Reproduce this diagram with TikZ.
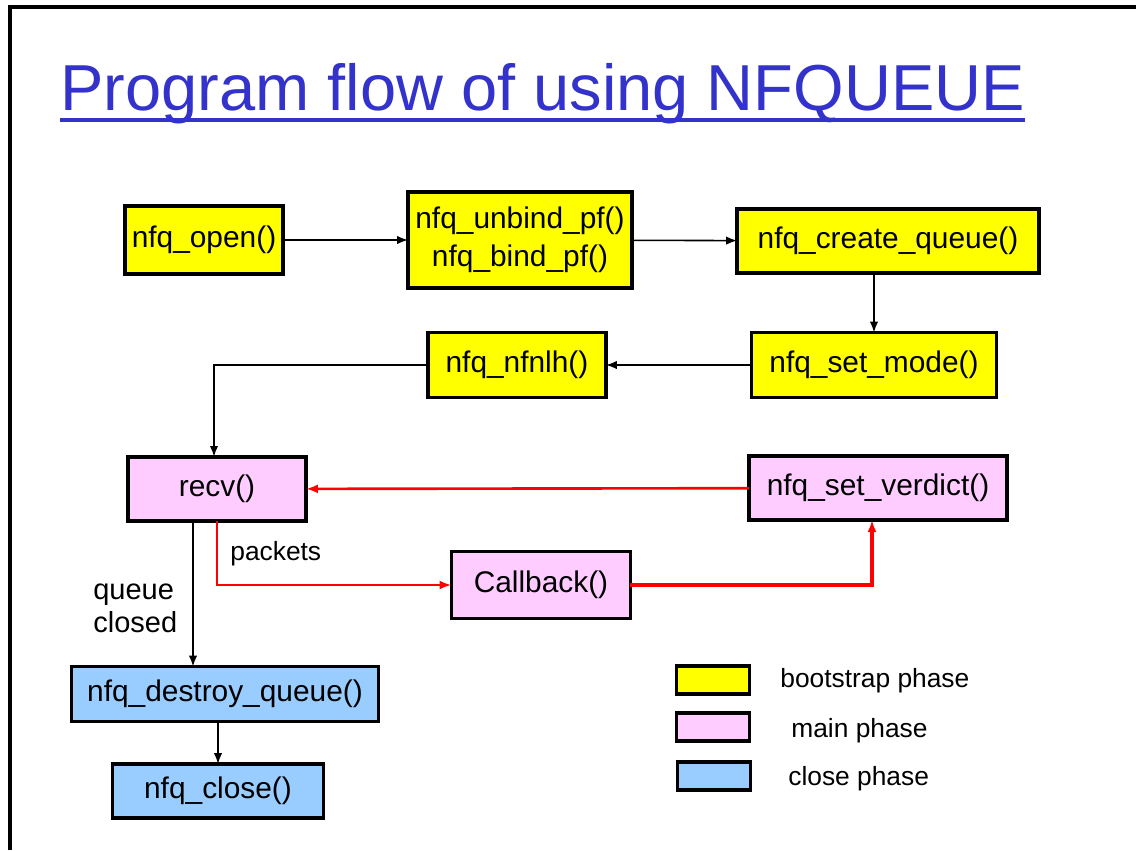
\documentclass[tikz,border=0pt]{standalone}
\usepackage{fontspec}
\setmainfont{Liberation Sans}
\usetikzlibrary{arrows.meta}
\definecolor{titleblue}{RGB}{51,51,204}
\definecolor{bootyellow}{RGB}{255,255,0}
\definecolor{mainpink}{RGB}{255,204,255}
\definecolor{closeblue}{RGB}{153,204,255}
\definecolor{flowred}{RGB}{255,0,0}

\begin{document}
\begin{tikzpicture}[x=0.02cm,y=-0.02cm,
	box/.style={draw,line width=2.2pt,inner sep=0,outer sep=0,font=\fontsize{17}{21.5}\selectfont,align=center},
	legendbox/.style={draw,line width=2.2pt,inner sep=0,outer sep=0,minimum width=1.46cm,minimum height=0.56cm},
	arr/.style={draw,line width=0.9pt,-{Latex[length=2.2mm,width=1.7mm]}},
	redarr/.style={draw=flowred,line width=1.5pt,-{Latex[length=2.4mm,width=1.8mm]},color=flowred}]
	\useasboundingbox (0,0) rectangle (1136,850);
	\draw[line width=2pt] (10,850) -- (10,7) -- (1136,7);
	% title
	\node[anchor=base west,inner sep=0,text=titleblue,font=\fontsize{37}{44}\selectfont] (0) at (60,110) {Program flow of using NFQUEUE};
	\draw[titleblue,line width=2pt] ([yshift=-0.2cm]0.base west) -- ([yshift=-0.2cm]0.base east);
	% bootstrap phase
	\node[box,fill=bootyellow,minimum width=3.16cm,minimum height=1.36cm] (1) at (204,240) {nfq\_open()};
	\node[box,fill=bootyellow,minimum width=4.48cm,minimum height=1.92cm] (2) at (520,240) {nfq\_unbind\_pf()\\nfq\_bind\_pf()};
	\node[box,fill=bootyellow,minimum width=6.04cm,minimum height=1.28cm] (3) at (888,241) {nfq\_create\_queue()};
	\node[box,fill=bootyellow,minimum width=4.9cm,minimum height=1.3cm] (4) at (874,365) {nfq\_set\_mode()};
	\node[box,fill=bootyellow,minimum width=3.56cm,minimum height=1.3cm] (5) at (517,365) {nfq\_nfnlh()};
	% main phase
	\node[box,fill=mainpink,minimum width=3.56cm,minimum height=1.28cm] (6) at (217,489) {recv()};
	\node[box,fill=mainpink,minimum width=5.16cm,minimum height=1.28cm] (7) at (878,488) {nfq\_set\_verdict()};
	\node[box,fill=mainpink,minimum width=3.58cm,minimum height=1.34cm] (8) at (541,585) {Callback()};
	% close phase
	\node[box,fill=closeblue,minimum width=6.14cm,minimum height=1.1cm] (9) at (225,694) {nfq\_destroy\_queue()};
	\node[box,fill=closeblue,minimum width=4.22cm,minimum height=1.08cm] (10) at (218,791) {nfq\_close()};
	% connectors
	\path[arr] (1) -- (2);
	\path[arr] (2) -- (3);
	\path[arr] (4.north |- 3.south) -- (4.north);
	\path[arr] (4) -- (5);
	\path[arr,line width=1.3pt] (5.west) -| ([xshift=-0.06cm]6.north);
	\path[redarr] (7) -- (6);
	\path[redarr] (6.south) |- (8.west);
	\path[redarr,line width=2.2pt] (8.east) -| ([xshift=-0.12cm]7.south);
	\path[arr] ([xshift=-0.48cm]6.south) -- ([xshift=-0.48cm]6.south |- 9.north);
	\path[arr] (10.north |- 9.south) -- (10.north);
	% labels
	\node[anchor=west,inner sep=0,font=\fontsize{15}{18}\selectfont] (11) at (230,554) {packets};
	\node[anchor=west,inner sep=0,align=left,font=\fontsize{16.5}{18.7}\selectfont] (12) at (93,608) {queue\\closed};
	% legend
	\node[legendbox,fill=bootyellow] (13) at (713,680) {};
	\node[legendbox,fill=mainpink] (14) at (713,727) {};
	\node[legendbox,fill=closeblue] (15) at (714,776) {};
	\node[anchor=west,inner sep=0,font=\fontsize{15}{18}\selectfont] (16) at (780,681) {bootstrap phase};
	\node[anchor=west,inner sep=0,font=\fontsize{15}{18}\selectfont] (17) at (791,731) {main phase};
	\node[anchor=west,inner sep=0,font=\fontsize{15}{18}\selectfont] (18) at (788,779) {close phase};
\end{tikzpicture}
\end{document}
